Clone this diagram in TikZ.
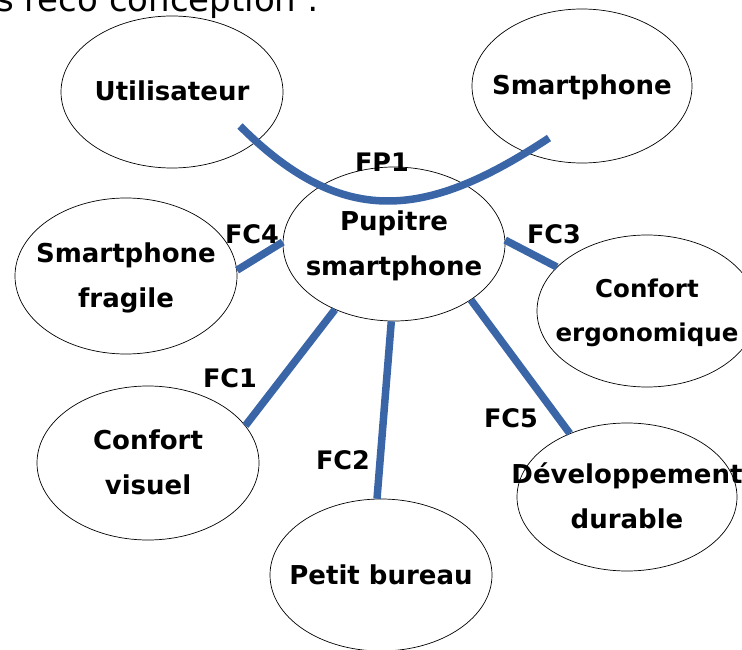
\documentclass[tikz,border=0pt]{standalone}
\usepackage{fontspec}
\setmainfont{DejaVu Sans}
\usetikzlibrary{shapes.geometric}
\definecolor{fpblue}{HTML}{3A66A8}
\newcommand{\etxt}[1]{\makebox[0pt]{\begin{tabular}{@{}c@{}}#1\end{tabular}}}
\begin{document}
\begin{tikzpicture}[x=1pt,y=-1pt,
  bubble/.style={ellipse, draw=black, line width=0.7pt, inner sep=0pt,
    font=\bfseries\fontsize{26}{45}\selectfont},
  link/.style={draw=fpblue, line width=7.5pt},
  fclabel/.style={font=\bfseries\fontsize{25.5}{28}\selectfont, inner sep=0pt}]
\useasboundingbox (0,0) rectangle (742,650);

\node[anchor=base west, inner sep=0pt, font=\fontsize{34}{40}\selectfont] (title) at (-4,12) {s reco conception :};

\node[bubble, minimum width=222pt, minimum height=152pt] (user) at (172,92) {\etxt{Utilisateur}};
\node[bubble, minimum width=220pt, minimum height=154pt] (phone) at (582,86) {\etxt{Smartphone}};
\node[bubble, minimum width=222pt, minimum height=154pt] (pup) at (394,244) {\etxt{Pupitre\\smartphone}};
\node[bubble, minimum width=222pt, minimum height=156pt] (frag) at (126,276) {\etxt{Smartphone\\fragile}};
\node[bubble, minimum width=220pt, minimum height=152pt, font=\bfseries\fontsize{24.5}{44}\selectfont] (ergo) at (647,311) {\etxt{Confort\\ergonomique}};
\node[bubble, minimum width=222pt, minimum height=154pt] (visuel) at (148,463) {\etxt{Confort\\visuel}};
\node[bubble, minimum width=222pt, minimum height=152pt] (bureau) at (381,575) {\etxt{Petit bureau}};
\node[bubble, minimum width=220pt, minimum height=148pt] (dev) at (627,497) {\etxt{Développement\\durable}};

\coordinate (fpa) at (240,126);
\coordinate (fpb) at (549,138);
\draw[link] (fpa) .. controls (345,231) and (429,217) .. (fpb);
\draw[link] (frag.3) -- (pup.179);
\draw[link] (pup.2) -- (ergo.154);
\draw[link] (pup.228) -- (visuel.21);
\draw[link] (pup.268) -- (bureau.93);
\draw[link] (pup.324) -- (dev.132);

\node[fclabel] (fp1) at (382,162) {FP1};
\node[fclabel] (fc4) at (252,234) {FC4};
\node[fclabel] (fc3) at (554,234) {FC3};
\node[fclabel] (fc1) at (230,378) {FC1};
\node[fclabel] (fc2) at (343,460) {FC2};
\node[fclabel] (fc5) at (511,418) {FC5};
\end{tikzpicture}
\end{document}
